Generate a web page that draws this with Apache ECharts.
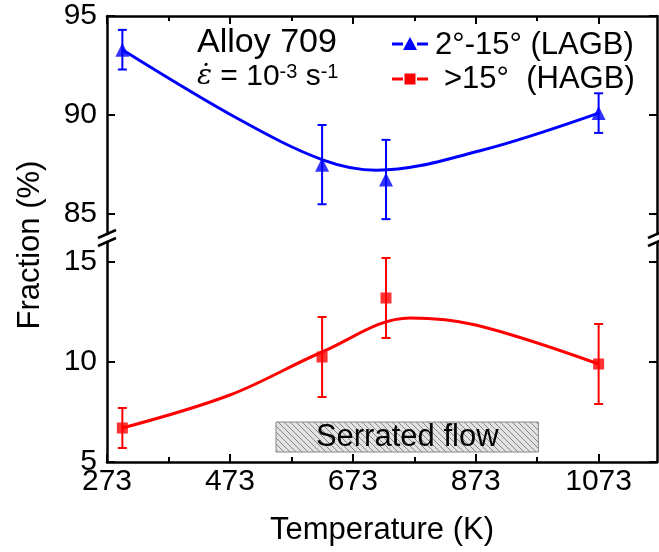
<!DOCTYPE html>
<html>
<head>
<meta charset="utf-8">
<script src="https://cdn.jsdelivr.net/npm/echarts@6/dist/echarts.min.js"></script>
<style>
  html, body { margin: 0; padding: 0; background: #ffffff; }
  #chart { width: 659px; height: 552px; }
</style>
</head>
<body>
<div id="chart"></div>
<script>
// Test temperatures (K)
const temperatures = [298, 623, 727, 1073];

// Low-angle grain boundary fraction (%) with its scatter
const lagbFraction = [93.3, 87.5, 86.75, 90.1];
const lagbError = [1.0, 2.0, 2.0, 1.0];

// High-angle grain boundary fraction (%) with its scatter
const hagbFraction = [6.7, 10.25, 13.2, 9.9];
const hagbError = [1.0, 2.0, 2.0, 2.0];

// Smoothed trend through each data set: temperature (K) and fraction (%)
const lagbTrendT = [298, 490, 625, 712, 880, 1073];
const lagbTrend  = [93.3, 89.75, 87.73, 87.22, 88.2, 90.1];
const hagbTrendT = [298, 473, 623, 766, 873, 1073];
const hagbTrend  = [6.7, 8.35, 10.5, 12.2, 11.85, 9.9];

// Temperature range showing serrated flow (K)
const serratedRange = [548, 975];

// Tick labels and tick positions
const tempTicks = [273, 473, 673, 873, 1073];
const tempMinorTicks = [373, 573, 773, 973];
const upperTicks = [85, 90, 95];
const lowerTicks = [5, 10, 15];

const BLUE = '#0000ff';
const RED = '#ff0000';
const FONT = '"Liberation Sans", Arial, sans-serif';

const chart = echarts.init(document.getElementById('chart'), null, { renderer: 'canvas' });

// Hatched fill for the serrated-flow band
function hatchPattern() {
  const c = document.createElement('canvas');
  c.width = 6; c.height = 6;
  const g = c.getContext('2d');
  g.fillStyle = '#e2e2e2';
  g.fillRect(0, 0, 6, 6);
  g.strokeStyle = '#707070';
  g.lineWidth = 0.8;
  g.beginPath();
  g.moveTo(-1, -1); g.lineTo(7, 7);
  g.moveTo(-1, 5); g.lineTo(1, 7);
  g.moveTo(5, -1); g.lineTo(7, 1);
  g.stroke();
  return c;
}

function pairs(xs, ys) { return xs.map((x, i) => [x, ys[i]]); }

function errorBars(values, errors, color, axisIdx) {
  return {
    type: 'custom',
    xAxisIndex: axisIdx.x,
    yAxisIndex: axisIdx.y,
    silent: true,
    clip: false,
    z: 3,
    data: temperatures.map((t, i) => [t, values[i] - errors[i], values[i] + errors[i]]),
    renderItem(params, api) {
      const lo = api.coord([api.value(0), api.value(1)]);
      const hi = api.coord([api.value(0), api.value(2)]);
      const w = 4.5;
      const st = { stroke: color, lineWidth: 2 };
      return {
        type: 'group',
        children: [
          { type: 'line', shape: { x1: lo[0], y1: lo[1], x2: hi[0], y2: hi[1] }, style: st },
          { type: 'line', shape: { x1: lo[0] - w, y1: lo[1], x2: lo[0] + w, y2: lo[1] }, style: st },
          { type: 'line', shape: { x1: hi[0] - w, y1: hi[1], x2: hi[0] + w, y2: hi[1] }, style: st }
        ]
      };
    }
  };
}

const axisLine = { show: true, onZero: false, lineStyle: { color: '#000', width: 2.5 } };
const tickStyle = { color: '#000', width: 2 };

// Temperature axis: major ticks (with frame line) and a companion axis for minor ticks
function tempAxis(grid, pos, withLabels) {
  const ax = {
    type: 'value', gridIndex: grid, position: pos, min: 273, max: 1168,
    axisLine: axisLine,
    axisTick: { show: true, inside: true, length: 8, customValues: tempTicks, lineStyle: tickStyle },
    axisLabel: { show: false },
    splitLine: { show: false }
  };
  if (withLabels) {
    ax.axisLabel = {
      show: true, customValues: tempTicks, fontSize: 30, color: '#000', fontFamily: FONT, margin: 5,
      formatter: v => String(v)
    };
    ax.name = 'Temperature (K)';
    ax.nameLocation = 'middle';
    ax.nameGap = 53;
    ax.nameTextStyle = { fontSize: 31, color: '#000', fontFamily: FONT };
  }
  return ax;
}
function tempMinorAxis(grid, pos) {
  return {
    type: 'value', gridIndex: grid, position: pos, min: 273, max: 1168,
    axisLine: { show: false, onZero: false },
    axisTick: { show: true, inside: true, length: 5, customValues: tempMinorTicks, lineStyle: tickStyle },
    axisLabel: { show: false },
    splitLine: { show: false }
  };
}
function yAxisDef(grid, pos, min, max, ticks, labels) {
  return {
    type: 'value', gridIndex: grid, position: pos, min: min, max: max,
    axisLine: axisLine,
    axisTick: { show: true, inside: true, length: 8, customValues: ticks, lineStyle: tickStyle },
    axisLabel: labels ? {
      show: true, customValues: ticks, fontSize: 30, color: '#000', fontFamily: FONT, margin: 10,
      formatter: v => String(v)
    } : { show: false },
    splitLine: { show: false }
  };
}

const option = {
  animation: false,
  backgroundColor: '#ffffff',
  grid: [
    { left: 107, top: 16, width: 550, height: 218 },
    { left: 107, top: 242, width: 550, height: 220 }
  ],
  xAxis: [
    tempAxis(0, 'top', false),
    tempAxis(1, 'bottom', true),
    tempMinorAxis(0, 'top'),
    tempMinorAxis(1, 'bottom')
  ],
  yAxis: [
    yAxisDef(0, 'left', 84, 95, upperTicks, true),
    yAxisDef(0, 'right', 84, 95, upperTicks, false),
    yAxisDef(1, 'left', 5, 16, lowerTicks, true),
    yAxisDef(1, 'right', 5, 16, lowerTicks, false)
  ],
  series: [
    {
      type: 'line', name: 'LAGB trend', xAxisIndex: 0, yAxisIndex: 0,
      data: pairs(lagbTrendT, lagbTrend), smooth: 0.35, showSymbol: false, symbol: 'none',
      lineStyle: { color: BLUE, width: 3 }, z: 2, silent: true
    },
    errorBars(lagbFraction, lagbError, BLUE, { x: 0, y: 0 }),
    {
      type: 'scatter', name: '2°-15° (LAGB)', xAxisIndex: 0, yAxisIndex: 0,
      data: pairs(temperatures, lagbFraction), symbol: 'triangle', symbolSize: 14,
      itemStyle: { color: BLUE }, z: 4, silent: true
    },
    {
      type: 'line', name: 'HAGB trend', xAxisIndex: 1, yAxisIndex: 2,
      data: pairs(hagbTrendT, hagbTrend), smooth: 0.35, showSymbol: false, symbol: 'none',
      lineStyle: { color: RED, width: 3 }, z: 2, silent: true,
      markArea: {
        silent: true,
        itemStyle: { color: { image: hatchPattern(), repeat: 'repeat' }, borderColor: '#888', borderWidth: 1 },
        label: { show: true, position: 'inside', color: '#000', fontSize: 31, fontFamily: FONT },
        data: [[
          { name: 'Serrated flow', coord: [serratedRange[0], 5.5] },
          { coord: [serratedRange[1], 7.0] }
        ]]
      }
    },
    errorBars(hagbFraction, hagbError, RED, { x: 1, y: 2 }),
    {
      type: 'scatter', name: '>15° (HAGB)', xAxisIndex: 1, yAxisIndex: 2,
      data: pairs(temperatures, hagbFraction), symbol: 'rect', symbolSize: 11,
      itemStyle: { color: RED }, z: 4, silent: true
    }
  ]
};

chart.setOption(option);

// Axis-break marks, annotation, legend and y-axis title
const gTop = option.grid[0], gBot = option.grid[1];
const breakY = (gTop.top + gTop.height + gBot.top) / 2;
const leftX = gTop.left, rightX = gTop.left + gTop.width;
function breakMarks(x) {
  return [-1, 1].map(k => ({
    type: 'line',
    shape: { x1: x - 9, y1: breakY + 4 * k + 4, x2: x + 9, y2: breakY + 4 * k - 4 },
    style: { stroke: '#000', lineWidth: 2.5 }
  }));
}
function legendIcon(y, color, symbol) {
  const x0 = 392, x1 = 428, mid = (x0 + x1) / 2;
  const items = [
    { type: 'line', shape: { x1: x0, y1: y, x2: mid - 7, y2: y }, style: { stroke: color, lineWidth: 3 } },
    { type: 'line', shape: { x1: mid + 7, y1: y, x2: x1, y2: y }, style: { stroke: color, lineWidth: 3 } }
  ];
  if (symbol === 'triangle') {
    items.push({ type: 'polygon', shape: { points: [[mid, y - 7], [mid - 7, y + 6], [mid + 7, y + 6]] }, style: { fill: color } });
  } else {
    items.push({ type: 'rect', shape: { x: mid - 5.5, y: y - 5.5, width: 11, height: 11 }, style: { fill: color } });
  }
  return items;
}
function label(text, x, y, size) {
  return { type: 'text', x: x, y: y, style: { text: text, font: size + 'px ' + FONT, fill: '#000', align: 'left', verticalAlign: 'middle' } };
}

chart.setOption({
  graphic: [].concat(
    breakMarks(leftX), breakMarks(rightX),
    legendIcon(44, BLUE, 'triangle'),
    legendIcon(79, RED, 'rect'),
    [
      label('2°-15° (LAGB)', 435, 45, 31),
      label('>15°  (HAGB)', 444, 79, 31),
      label('Alloy 709', 197, 43, 34),
      {
        type: 'text', x: 197, y: 77,
        style: {
          text: '{e|ε̇} = 10{s|-3} s{s|-1}',
          font: '30px ' + FONT, fill: '#000', align: 'left', verticalAlign: 'middle',
          rich: {
            e: { fontFamily: '"DejaVu Serif", serif', fontStyle: 'italic', fontSize: 28 },
            s: { fontSize: 20, verticalAlign: 'top' }
          }
        }
      },
      {
        type: 'text', x: 30, y: 245, rotation: Math.PI / 2,
        style: { text: 'Fraction (%)', font: '31px ' + FONT, fill: '#000', align: 'center', verticalAlign: 'middle' }
      }
    ]
  )
});
</script>
</body>
</html>
